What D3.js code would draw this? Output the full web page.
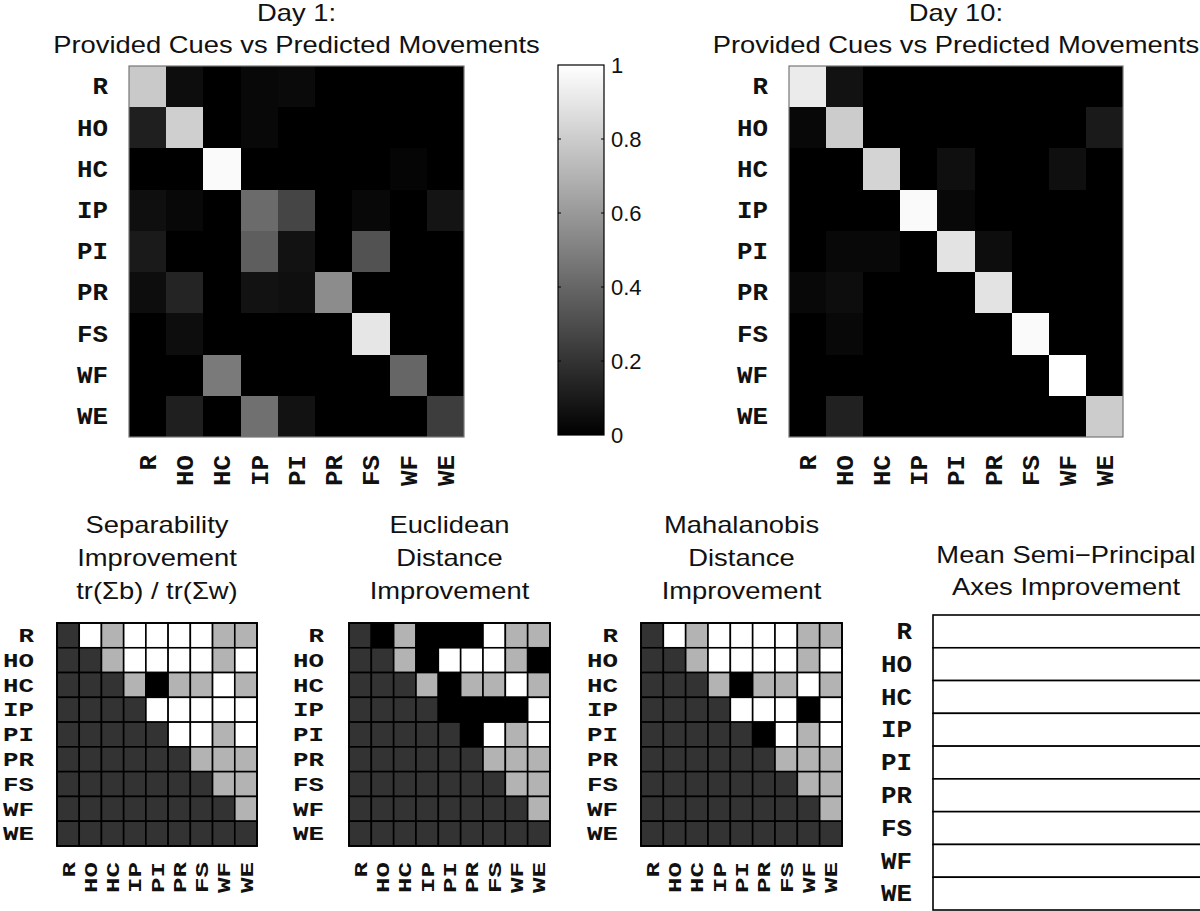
<!DOCTYPE html>
<html>
<head>
<meta charset="utf-8">
<script src="https://cdn.jsdelivr.net/npm/d3@7/dist/d3.min.js"></script>
<style>
  html, body { margin: 0; padding: 0; background: #fff; }
  svg { display: block; }
</style>
</head>
<body>
<svg id="chart" width="1200" height="911"></svg>
<script>
// ---------------- DATA ----------------
const categories = ["R", "HO", "HC", "IP", "PI", "PR", "FS", "WF", "WE"];

// Day 1 confusion matrix (rows: provided cue, columns: predicted movement)
const day1Values = [
  [0.79, 0.05, 0.00, 0.03, 0.04, 0.00, 0.00, 0.00, 0.00],
  [0.12, 0.81, 0.00, 0.03, 0.00, 0.00, 0.00, 0.00, 0.00],
  [0.00, 0.00, 0.98, 0.00, 0.00, 0.00, 0.00, 0.02, 0.00],
  [0.06, 0.03, 0.00, 0.42, 0.27, 0.00, 0.03, 0.00, 0.08],
  [0.10, 0.00, 0.00, 0.37, 0.07, 0.00, 0.32, 0.00, 0.00],
  [0.05, 0.14, 0.00, 0.07, 0.06, 0.55, 0.00, 0.00, 0.00],
  [0.00, 0.05, 0.00, 0.00, 0.00, 0.00, 0.90, 0.00, 0.00],
  [0.00, 0.00, 0.48, 0.00, 0.00, 0.00, 0.00, 0.40, 0.00],
  [0.00, 0.12, 0.00, 0.44, 0.07, 0.00, 0.00, 0.00, 0.24]
];

// Day 10 confusion matrix
const day10Values = [
  [0.92, 0.07, 0.00, 0.00, 0.00, 0.00, 0.00, 0.00, 0.00],
  [0.03, 0.80, 0.00, 0.00, 0.00, 0.00, 0.00, 0.00, 0.10],
  [0.00, 0.00, 0.83, 0.00, 0.06, 0.00, 0.00, 0.06, 0.00],
  [0.00, 0.00, 0.00, 0.98, 0.03, 0.00, 0.00, 0.00, 0.00],
  [0.00, 0.03, 0.03, 0.00, 0.89, 0.05, 0.00, 0.00, 0.00],
  [0.03, 0.05, 0.00, 0.00, 0.00, 0.89, 0.00, 0.00, 0.00],
  [0.00, 0.03, 0.00, 0.00, 0.00, 0.00, 0.98, 0.00, 0.00],
  [0.00, 0.00, 0.00, 0.00, 0.00, 0.00, 0.00, 1.00, 0.00],
  [0.00, 0.13, 0.00, 0.00, 0.00, 0.00, 0.00, 0.00, 0.80]
];

// Pairwise improvement maps (grey levels: 0.2 = lower triangle, 0 = none, 0.7 = partial, 1 = full)
const separabilityValues = [
  [0.2, 1.0, 0.7, 1.0, 1.0, 1.0, 1.0, 0.7, 0.7],
  [0.2, 0.2, 0.7, 1.0, 1.0, 1.0, 1.0, 0.7, 1.0],
  [0.2, 0.2, 0.2, 0.7, 0.0, 0.7, 0.7, 1.0, 0.7],
  [0.2, 0.2, 0.2, 0.2, 1.0, 1.0, 1.0, 1.0, 1.0],
  [0.2, 0.2, 0.2, 0.2, 0.2, 1.0, 1.0, 0.7, 1.0],
  [0.2, 0.2, 0.2, 0.2, 0.2, 0.2, 0.7, 0.7, 0.7],
  [0.2, 0.2, 0.2, 0.2, 0.2, 0.2, 0.2, 0.7, 0.7],
  [0.2, 0.2, 0.2, 0.2, 0.2, 0.2, 0.2, 0.2, 0.7],
  [0.2, 0.2, 0.2, 0.2, 0.2, 0.2, 0.2, 0.2, 0.2]
];
const euclideanValues = [
  [0.2, 0.0, 0.7, 0.0, 0.0, 0.0, 1.0, 0.7, 0.7],
  [0.2, 0.2, 0.7, 0.0, 1.0, 1.0, 1.0, 0.7, 0.0],
  [0.2, 0.2, 0.2, 0.7, 0.0, 0.7, 0.7, 1.0, 0.7],
  [0.2, 0.2, 0.2, 0.2, 0.0, 0.0, 0.0, 0.0, 1.0],
  [0.2, 0.2, 0.2, 0.2, 0.2, 0.0, 1.0, 0.7, 1.0],
  [0.2, 0.2, 0.2, 0.2, 0.2, 0.2, 0.7, 0.7, 0.7],
  [0.2, 0.2, 0.2, 0.2, 0.2, 0.2, 0.2, 0.7, 0.7],
  [0.2, 0.2, 0.2, 0.2, 0.2, 0.2, 0.2, 0.2, 0.7],
  [0.2, 0.2, 0.2, 0.2, 0.2, 0.2, 0.2, 0.2, 0.2]
];
const mahalanobisValues = [
  [0.2, 1.0, 0.7, 1.0, 1.0, 1.0, 1.0, 0.7, 0.7],
  [0.2, 0.2, 0.7, 1.0, 1.0, 1.0, 1.0, 0.7, 1.0],
  [0.2, 0.2, 0.2, 0.7, 0.0, 0.7, 0.7, 1.0, 0.7],
  [0.2, 0.2, 0.2, 0.2, 1.0, 1.0, 1.0, 0.0, 1.0],
  [0.2, 0.2, 0.2, 0.2, 0.2, 0.0, 1.0, 0.7, 1.0],
  [0.2, 0.2, 0.2, 0.2, 0.2, 0.2, 0.7, 0.7, 0.7],
  [0.2, 0.2, 0.2, 0.2, 0.2, 0.2, 0.2, 0.7, 0.7],
  [0.2, 0.2, 0.2, 0.2, 0.2, 0.2, 0.2, 0.2, 0.7],
  [0.2, 0.2, 0.2, 0.2, 0.2, 0.2, 0.2, 0.2, 0.2]
];

const colorbarTicks = [0, 0.2, 0.4, 0.6, 0.8, 1];

const titles = {
  day1: ["Day 1:", "Provided Cues vs Predicted Movements"],
  day10: ["Day 10:", "Provided Cues vs Predicted Movements"],
  sep: ["Separability", "Improvement", "tr(\u03A3b) / tr(\u03A3w)"],
  euc: ["Euclidean", "Distance", "Improvement"],
  mah: ["Mahalanobis", "Distance", "Improvement"],
  semi: ["Mean Semi\u2212Principal", "Axes Improvement"]
};

// ---------------- DRAWING ----------------
const svg = d3.select("#chart");
const gray = d3.scaleLinear().domain([0, 1]).range(["#000000", "#ffffff"]).interpolate(d3.interpolateRgb).clamp(true);

const TITLE_FONT = "'Liberation Sans', Arial, Helvetica, sans-serif";
const LABEL_FONT = "'Liberation Mono', 'Courier New', monospace";
const TITLE_SIZE = 24;
const TITLE_STRETCH = 1.14;

function drawTitle(lines, cx, lastBaseline, lineH) {
  const n = lines.length;
  lines.forEach((t, i) => {
    const el = svg.append("text")
      .attr("x", cx)
      .attr("y", lastBaseline - (n - 1 - i) * lineH)
      .attr("text-anchor", "middle")
      .attr("font-family", TITLE_FONT)
      .attr("font-size", TITLE_SIZE)
      .attr("fill", "#111")
      .text(t);
    const w = el.node().getComputedTextLength();
    el.attr("textLength", w * TITLE_STRETCH).attr("lengthAdjust", "spacingAndGlyphs");
  });
}

function styleLabels(sel, size, charW) {
  sel.attr("font-family", LABEL_FONT).attr("font-weight", "bold")
    .attr("font-size", size).attr("fill", "#111")
    .attr("textLength", d => d.length * charW)
    .attr("lengthAdjust", "spacingAndGlyphs");
}

function drawMatrix(values, box, opt) {
  const x = d3.scaleBand().domain(categories).range([box.x0, box.x1]);
  const y = d3.scaleBand().domain(categories).range([box.y0, box.y1]);
  const g = svg.append("g");
  const cells = [];
  values.forEach((row, i) => row.forEach((v, j) => cells.push({ r: categories[i], c: categories[j], v })));
  g.selectAll("rect.cell").data(cells).join("rect")
    .attr("class", "cell")
    .attr("x", d => x(d.c))
    .attr("y", d => y(d.r))
    .attr("width", x.bandwidth())
    .attr("height", y.bandwidth())
    .attr("fill", d => gray(d.v))
    .attr("stroke", opt.grid ? "#000" : "none")
    .attr("stroke-width", opt.grid ? 1.6 : 0)
    .attr("shape-rendering", opt.grid ? null : "crispEdges");

  g.append("rect")
    .attr("x", box.x0).attr("y", box.y0)
    .attr("width", box.x1 - box.x0).attr("height", box.y1 - box.y0)
    .attr("fill", "none")
    .attr("stroke", opt.grid ? "#000" : "#777")
    .attr("stroke-width", opt.grid ? 1.8 : 1.2);

  // y axis labels
  const ya = svg.append("g").attr("transform", `translate(${box.x0},0)`)
    .call(d3.axisLeft(y).tickSize(0).tickPadding(opt.yPad));
  ya.select(".domain").remove();
  styleLabels(ya.selectAll("text"), opt.yLabelSize, opt.charW);

  // x axis labels (rotated)
  const xa = svg.append("g").attr("transform", `translate(0,${box.y1})`)
    .call(d3.axisBottom(x).tickSize(0));
  xa.select(".domain").remove();
  const xt = xa.selectAll("text");
  styleLabels(xt, opt.xLabelSize, opt.charW);
  xt.attr("transform", "rotate(-90)")
    .attr("text-anchor", "end")
    .attr("x", -opt.xPad).attr("y", 0).attr("dy", "0.35em");
}

// Top matrices
const topBox1 = { x0: 129, x1: 464, y0: 66, y1: 437 };
const topBox2 = { x0: 789, x1: 1123, y0: 66, y1: 437 };
const topOpt = { grid: false, yPad: 21, xPad: 18, yLabelSize: 24, xLabelSize: 24, charW: 15.5 };
drawMatrix(day1Values, topBox1, topOpt);
drawMatrix(day10Values, topBox2, topOpt);
drawTitle(titles.day1, (topBox1.x0 + topBox1.x1) / 2, 53, 32);
drawTitle(titles.day10, (topBox2.x0 + topBox2.x1) / 2, 53, 32);

// Colorbar
const cb = { x0: 558, x1: 604, y0: 65, y1: 435 };
const defs = svg.append("defs");
const grad = defs.append("linearGradient").attr("id", "cbgrad")
  .attr("x1", 0).attr("y1", 1).attr("x2", 0).attr("y2", 0);
d3.range(0, 1.0001, 0.1).forEach(t => grad.append("stop").attr("offset", t).attr("stop-color", gray(t)));
svg.append("rect").attr("x", cb.x0).attr("y", cb.y0)
  .attr("width", cb.x1 - cb.x0).attr("height", cb.y1 - cb.y0)
  .attr("fill", "url(#cbgrad)").attr("stroke", "#000").attr("stroke-width", 1.2);
const cbScale = d3.scaleLinear().domain([0, 1]).range([cb.y1, cb.y0]);
const cbAxis = svg.append("g").attr("transform", `translate(${cb.x1},0)`)
  .call(d3.axisRight(cbScale).tickValues(colorbarTicks).tickSize(0).tickPadding(7).tickFormat(d3.format("")));
cbAxis.select(".domain").remove();
cbAxis.selectAll("text").attr("font-family", TITLE_FONT).attr("font-size", 22).attr("fill", "#111");
colorbarTicks.filter(t => t > 0 && t < 1).forEach(t => {
  svg.append("line").attr("x1", cb.x0).attr("x2", cb.x0 + 3).attr("y1", cbScale(t)).attr("y2", cbScale(t)).attr("stroke", "#000");
  svg.append("line").attr("x1", cb.x1 - 3).attr("x2", cb.x1).attr("y1", cbScale(t)).attr("y2", cbScale(t)).attr("stroke", "#000");
});

// Bottom matrices
const botBoxes = [
  { x0: 57, x1: 257, y0: 623, y1: 846 },
  { x0: 349, x1: 550, y0: 623, y1: 846 },
  { x0: 641, x1: 842, y0: 623, y1: 846 }
];
const botOpt = (pad) => ({ grid: true, yPad: pad, xPad: 16, yLabelSize: 21, xLabelSize: 19, charW: 15.5 });
drawMatrix(separabilityValues, botBoxes[0], botOpt(23));
drawMatrix(euclideanValues, botBoxes[1], botOpt(25));
drawMatrix(mahalanobisValues, botBoxes[2], botOpt(23));
drawTitle(titles.sep, (botBoxes[0].x0 + botBoxes[0].x1) / 2, 599, 33);
drawTitle(titles.euc, (botBoxes[1].x0 + botBoxes[1].x1) / 2, 599, 33);
drawTitle(titles.mah, (botBoxes[2].x0 + botBoxes[2].x1) / 2, 599, 33);

// Mean semi-principal axes panel (empty rows)
const semiBox = { x0: 933, x1: 1215, y0: 615, y1: 910 };
const ySemi = d3.scaleBand().domain(categories).range([semiBox.y0, semiBox.y1]);
svg.append("g").selectAll("rect").data(categories).join("rect")
  .attr("x", semiBox.x0).attr("y", d => ySemi(d))
  .attr("width", semiBox.x1 - semiBox.x0).attr("height", ySemi.bandwidth())
  .attr("fill", "#fff").attr("stroke", "#000").attr("stroke-width", 1.6);
const ysa = svg.append("g").attr("transform", `translate(${semiBox.x0},0)`)
  .call(d3.axisLeft(ySemi).tickSize(0).tickPadding(21));
ysa.select(".domain").remove();
styleLabels(ysa.selectAll("text"), 24, 15.5);
drawTitle(titles.semi, 1066, 595, 32);
</script>
</body>
</html>
